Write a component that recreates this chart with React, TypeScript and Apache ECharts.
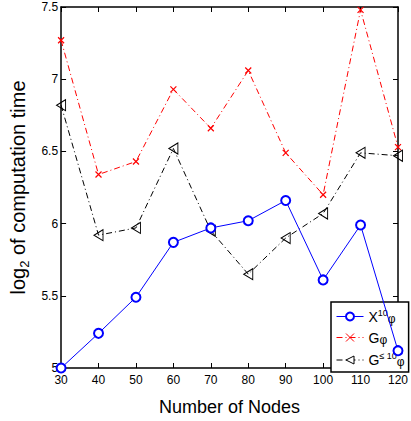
import React, { useEffect, useRef } from "react";
import * as echarts from "echarts";

const nodes = [30, 40, 50, 60, 70, 80, 90, 100, 110, 120];
const xPhi = [5.0, 5.24, 5.49, 5.87, 5.97, 6.02, 6.16, 5.61, 5.99, 5.12];
const gPhi = [7.27, 6.34, 6.43, 6.93, 6.66, 7.06, 6.49, 6.2, 7.48, 6.53];
const gLe10Phi = [6.82, 5.92, 5.97, 6.52, 5.95, 5.65, 5.9, 6.07, 6.49, 6.47];

const seriesNames = ["X10φ", "Gφ", "G≤10φ"];
const seriesColors = ["#0000ff", "#ff0000", "#000000"];
const legendRich: Record<string, string> = {
  "X10φ": "{n|X}{sup|10}{sub|φ}",
  "Gφ": "{n|G}{sub|φ}",
  "G≤10φ": "{n|G}{sup|≤ 10}{sub|φ}",
};

const FONT = "'Liberation Sans', Arial, sans-serif";

export default function App() {
  const ref = useRef<HTMLDivElement>(null);
  useEffect(() => {
    if (!ref.current) return;
    const chart = echarts.init(ref.current, undefined, { renderer: "svg" });
    const pair = (ys: number[]) => nodes.map((x, i) => [x, ys[i]]);
    const axisCommon = {
      axisLine: { show: true, lineStyle: { color: "#000", width: 1.5 } },
      axisTick: { show: true, inside: true, length: 5, lineStyle: { color: "#000" } },
      splitLine: { show: false },
    };
    chart.setOption({
      animation: false,
      backgroundColor: "#fff",
      textStyle: { fontFamily: FONT },
      grid: { left: 55, right: 4, top: 7, bottom: 45, containLabel: false },
      xAxis: [
        {
          type: "value",
          min: 30,
          max: 120,
          interval: 10,
          name: "Number of Nodes",
          nameLocation: "middle",
          nameGap: 30,
          nameTextStyle: { fontSize: 18, color: "#000", fontFamily: FONT },
          axisLabel: { color: "#000", fontSize: 12, margin: 6, fontFamily: FONT },
          ...axisCommon,
        },
        {
          type: "value",
          position: "top",
          min: 30,
          max: 120,
          interval: 10,
          axisLabel: { show: false },
          ...axisCommon,
        },
      ],
      yAxis: [
        {
          type: "value",
          min: 5,
          max: 7.5,
          interval: 0.5,
          name: "{a|log}{b|2}{a| of computation time}",
          nameLocation: "middle",
          nameRotate: 90,
          nameGap: 28,
          nameTextStyle: {
            rich: {
              a: { fontSize: 20, color: "#000", fontFamily: FONT },
              b: { fontSize: 13, color: "#000", fontFamily: FONT, padding: [0, 0, -12, 0] },
            },
          },
          axisLabel: { color: "#000", fontSize: 12, margin: 3, fontFamily: FONT },
          ...axisCommon,
        },
        {
          type: "value",
          position: "right",
          min: 5,
          max: 7.5,
          interval: 0.5,
          axisLabel: { show: false },
          ...axisCommon,
        },
      ],
      legend: {
        left: 331,
        top: 302,
        orient: "vertical",
        data: seriesNames.map((name, i) => ({
          name,
          itemStyle: {
            color: i === 2 ? "#ffffff" : seriesColors[i],
            borderColor: seriesColors[i],
            borderWidth: 1,
          },
          lineStyle: { color: seriesColors[i], width: 1 },
        })),
        backgroundColor: "#fff",
        borderColor: "#000",
        borderWidth: 1.5,
        borderRadius: 0,
        padding: [6, 4, 4, 5],
        itemGap: 6,
        itemWidth: 27,
        itemHeight: 10,
        formatter: (n: string) => legendRich[n],
        textStyle: {
          rich: {
            n: { fontSize: 14, color: "#000", fontFamily: FONT },
            sup: { fontSize: 9, color: "#000", fontFamily: FONT, padding: [0, 0, 8, 0] },
            sub: { fontSize: 12, color: "#000", fontFamily: FONT, padding: [4, 0, 0, 0] },
          },
        },
      },
      series: [
        {
          name: seriesNames[0],
          type: "line",
          data: pair(xPhi),
          symbol: "emptyCircle",
          symbolSize: 9,
          color: seriesColors[0],
          lineStyle: { color: seriesColors[0], width: 1 },
          itemStyle: { color: seriesColors[0], borderColor: seriesColors[0], borderWidth: 1 },
          z: 4,
        },
        {
          name: seriesNames[1],
          type: "line",
          data: pair(gPhi),
          symbol: "path://M0,0L10,10M10,0L0,10",
          symbolSize: 6,
          color: seriesColors[1],
          lineStyle: { color: seriesColors[1], width: 1, type: [6, 3, 1, 3] },
          itemStyle: { color: seriesColors[1], borderColor: seriesColors[1], borderWidth: 1.2 },
          z: 3,
        },
        {
          name: seriesNames[2],
          type: "line",
          data: pair(gLe10Phi),
          symbol: "path://M0,5L10,0L10,10Z",
          symbolSize: [9, 11],
          color: seriesColors[2],
          lineStyle: { color: seriesColors[2], width: 1, type: [6, 3, 1, 3] },
          itemStyle: { color: "rgba(255,255,255,0)", borderColor: seriesColors[2], borderWidth: 1 },
          z: 3,
        },
      ],
    });
    return () => chart.dispose();
  }, []);
  return <div ref={ref} style={{ width: 411, height: 421, position: "absolute", left: 0, top: 0 }} />;
}
